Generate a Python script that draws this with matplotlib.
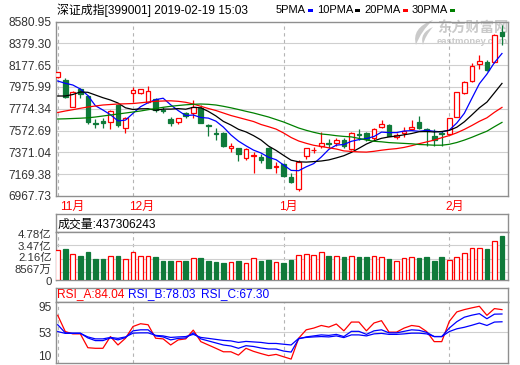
import matplotlib
matplotlib.use("Agg")
import matplotlib.pyplot as plt
from matplotlib.patches import Rectangle, PathPatch
from matplotlib.path import Path
from matplotlib.transforms import blended_transform_factory, ScaledTranslation
import numpy as np

plt.rcParams['font.family'] = ['Liberation Sans', 'Noto Sans CJK SC', 'DejaVu Sans']

# ---------------- data ----------------
title = "深证成指[399001] 2019-02-19 15:03"
ma_names = ["5PMA", "10PMA", "20PMA", "30PMA"]
month_labels = ["11月", "12月", "1月", "2月"]
month_index = [0, 10, 30, 52]

opens = [8065, 8037, 7793, 7954, 7895, 7643, 7664, 7649, 7809, 7594,
         7917, 7923, 7840, 7862, 7767, 7675, 7655, 7732, 7732, 7777,
         7620, 7550, 7550, 7414, 7409, 7316, 7337, 7331, 7414, 7236,
         7264, 7143, 7037, 7342, 7390, 7430, 7455, 7455, 7485, 7402,
         7541, 7547, 7501, 7603, 7624, 7510, 7547, 7587, 7655, 7583,
         7522, 7550, 7541, 7701, 7923, 8031, 8188, 8207, 8202, 8487]
highs = [8114, 8056, 7938, 7963, 7901, 7682, 7692, 7763, 7818, 7698,
         7978, 7957, 7985, 7877, 7793, 7695, 7689, 7744, 7855, 7809,
         7631, 7596, 7559, 7455, 7416, 7411, 7377, 7353, 7424, 7282,
         7276, 7183, 7300, 7411, 7418, 7555, 7499, 7501, 7501, 7557,
         7583, 7562, 7594, 7670, 7629, 7550, 7606, 7670, 7707, 7592,
         7587, 7569, 7689, 7929, 8034, 8195, 8271, 8225, 8461, 8549]
lows = [8058, 7871, 7790, 7871, 7633, 7599, 7599, 7584, 7606, 7550,
        7840, 7908, 7830, 7747, 7732, 7618, 7633, 7686, 7686, 7638,
        7525, 7481, 7418, 7372, 7291, 7300, 7183, 7270, 7224, 7180,
        7141, 7085, 7017, 7310, 7362, 7416, 7411, 7433, 7409, 7393,
        7490, 7479, 7485, 7592, 7518, 7495, 7513, 7578, 7587, 7433,
        7433, 7433, 7532, 7698, 7911, 8019, 8139, 8123, 8197, 8364]
closes = [8111, 7886, 7932, 7908, 7649, 7636, 7645, 7756, 7624, 7686,
          7948, 7954, 7938, 7763, 7758, 7640, 7686, 7707, 7793, 7640,
          7615, 7544, 7433, 7430, 7353, 7399, 7347, 7298, 7229, 7245,
          7153, 7097, 7285, 7407, 7396, 7455, 7448, 7485, 7433, 7547,
          7532, 7495, 7584, 7633, 7525, 7532, 7569, 7603, 7599, 7573,
          7485, 7541, 7686, 7926, 8024, 8172, 8219, 8133, 8456, 8447]

ma5 = [8030.9, 8009.6, 7993.9, 7956.9, 7896.8, 7802.5, 7762.7, 7719.3, 7662.0, 7669.4,
       7732.2, 7793.3, 7830.2, 7858.0, 7871.8, 7810.8, 7757.2, 7711.0, 7716.5, 7693.4,
       7687.9, 7660.1, 7604.7, 7532.6, 7475.2, 7431.8, 7392.0, 7365.2, 7325.5, 7303.3,
       7254.3, 7204.4, 7201.6, 7237.6, 7267.2, 7328.2, 7398.5, 7438.2, 7443.8, 7473.4,
       7489.1, 7498.3, 7517.8, 7558.4, 7553.8, 7553.8, 7568.6, 7572.3, 7565.8, 7575.1,
       7565.8, 7560.3, 7576.9, 7642.6, 7732.2, 7870.0, 8005.9, 8094.6, 8201.0, 8285.1]
ma10 = [7892.2, 7892.2, 7906.0, 7929.2, 7926.4, 7901.4, 7876.5, 7855.2, 7827.5, 7783.1,
        7767.4, 7773.8, 7774.8, 7760.0, 7771.1, 7771.1, 7775.7, 7770.1, 7787.7, 7783.1,
        7749.8, 7708.2, 7657.4, 7624.1, 7584.3, 7560.3, 7526.1, 7485.4, 7429.0, 7389.3,
        7343.0, 7298.7, 7283.9, 7281.1, 7285.7, 7291.3, 7301.4, 7319.9, 7340.3, 7370.8,
        7408.7, 7448.4, 7478.0, 7501.1, 7514.1, 7521.5, 7533.5, 7545.5, 7562.1, 7564.0,
        7559.4, 7564.0, 7574.2, 7603.7, 7653.7, 7717.4, 7783.1, 7835.8, 7921.8, 8008.7]
ma20 = [7739.6, 7753.5, 7765.5, 7778.5, 7790.5, 7799.7, 7809.0, 7813.6, 7818.2, 7820.1,
        7822.8, 7829.3, 7836.7, 7843.2, 7846.0, 7847.8, 7843.2, 7833.9, 7818.2, 7797.0,
        7776.6, 7758.1, 7735.0, 7711.9, 7693.4, 7674.9, 7656.4, 7628.7, 7608.4, 7586.2,
        7550.1, 7508.5, 7476.2, 7454.9, 7436.4, 7425.3, 7413.3, 7402.2, 7384.6, 7380.0,
        7375.4, 7373.5, 7380.9, 7391.1, 7399.4, 7405.9, 7417.0, 7432.7, 7451.2, 7467.8,
        7484.5, 7506.7, 7526.1, 7552.0, 7583.4, 7619.5, 7658.3, 7690.6, 7741.5, 7786.8]
ma30 = [7679.5, 7681.4, 7684.2, 7686.9, 7690.6, 7698.0, 7707.3, 7716.5, 7725.8, 7735.0,
        7744.3, 7753.5, 7765.5, 7776.6, 7787.7, 7797.0, 7804.4, 7810.8, 7815.4, 7818.2,
        7815.4, 7809.0, 7797.0, 7783.1, 7767.4, 7750.7, 7735.0, 7716.5, 7698.0, 7674.9,
        7651.8, 7624.1, 7596.3, 7575.1, 7556.6, 7540.9, 7534.4, 7525.2, 7518.7, 7514.1,
        7500.2, 7485.4, 7473.4, 7468.8, 7461.4, 7457.7, 7454.0, 7450.3, 7443.8, 7441.0,
        7437.3, 7437.3, 7445.7, 7462.3, 7484.5, 7510.4, 7539.0, 7566.8, 7608.4, 7648.1]

# volume in units of 1e8 (亿)
volume = [3.02, 3.09, 2.59, 2.42, 2.82, 2.12, 2.12, 2.42, 2.42, 2.12,
          2.79, 2.42, 2.42, 2.32, 1.92, 1.92, 1.92, 1.92, 2.22, 2.25,
          1.92, 1.82, 1.72, 1.82, 1.92, 1.72, 2.22, 1.92, 2.02, 1.79,
          1.72, 2.02, 2.49, 2.59, 2.49, 2.79, 2.42, 2.42, 2.32, 2.42,
          2.32, 2.32, 2.42, 2.32, 2.12, 1.92, 2.22, 2.32, 2.22, 2.32,
          1.92, 2.32, 2.02, 2.32, 2.69, 3.22, 3.22, 3.12, 3.91, 4.373]
volume_header = "成交量:437306243"

rsi_a = [76.2, 53.8, 50.6, 50.6, 31.5, 30.7, 30.7, 46.9, 35.3, 44.6,
         60.8, 64.6, 63.2, 44.6, 43.7, 35.3, 42.3, 43.7, 55.8, 39.9,
         35.3, 30.7, 25.9, 25.9, 21.3, 30.7, 26.5, 23.4, 20.6, 22.3,
         19.0, 15.8, 44.6, 56.2, 58.6, 62.2, 60.0, 64.2, 54.8, 66.9,
         66.9, 54.8, 65.6, 68.8, 53.0, 53.0, 58.6, 62.2, 60.8, 53.8,
         39.9, 39.9, 67.8, 80.9, 84.1, 86.5, 88.7, 76.2, 85.5, 84.04]
rsi_b = [63.2, 52.0, 51.6, 51.6, 45.0, 41.3, 41.3, 45.0, 42.3, 45.5,
         54.8, 56.2, 56.2, 47.8, 46.4, 42.3, 44.4, 45.0, 52.0, 43.7,
         40.9, 38.1, 35.3, 33.9, 30.7, 34.3, 33.2, 31.1, 29.7, 29.7,
         26.9, 25.5, 43.7, 46.4, 47.8, 49.2, 48.5, 49.9, 46.9, 54.1,
         54.1, 49.9, 54.8, 56.2, 52.0, 52.0, 54.1, 56.2, 55.5, 52.7,
         46.9, 46.9, 58.6, 67.4, 73.6, 76.4, 78.5, 71.5, 77.8, 78.03]
rsi_c = [53.8, 51.3, 51.3, 51.3, 46.4, 43.7, 43.7, 45.7, 44.4, 46.4,
         51.6, 52.0, 52.0, 48.5, 47.8, 45.7, 46.4, 46.9, 49.9, 45.7,
         44.4, 43.0, 41.6, 40.9, 38.8, 40.2, 39.5, 38.8, 37.4, 37.4,
         36.3, 35.3, 44.4, 45.7, 46.4, 46.9, 46.4, 47.8, 45.5, 49.2,
         49.2, 47.8, 50.6, 51.3, 49.9, 49.9, 50.6, 51.6, 51.6, 50.6,
         46.9, 46.9, 53.8, 57.6, 59.7, 62.5, 65.6, 62.2, 66.9, 67.30]
rsi_names = ["RSI_A", "RSI_B", "RSI_C"]

price_ticks = [6967.73, 7169.38, 7371.04, 7572.69, 7774.34, 7975.99, 8177.65, 8379.30, 8580.95]
vol_ticks = [0, 0.8567, 2.16, 3.47, 4.78]
vol_tick_labels = ["0", "8567万", "2.16亿", "3.47亿", "4.78亿"]
rsi_ticks = [10, 53, 95]

# ---------------- style ----------------
RED = "#ff0000"
GREEN = "#0f7a3a"
MA_COLORS = ["#0000ff", "#000000", "#ff0000", "#008000"]
RSI_COLORS = ["#ff0000", "#0000ff", "#0000ff"]
FRAME = "#8f8f8f"
GRID = "#cfcfcf"
DASH = "#b4b4b4"
LABEL = "#333333"
WM = "#cacaca"
FS = 8.6

W, H = 520, 365
fig = plt.figure(figsize=(W / 100, H / 100), dpi=100)
fig.patch.set_facecolor("white")


def rect(x0, y0, x1, y1):
    return [x0 / W, 1 - y1 / H, (x1 - x0) / W, (y1 - y0) / H]


def fp(px, py):
    return (px / W, 1 - py / H)


X0, X1 = 56, 508.3
ax = fig.add_axes(rect(X0, 21.5, X1, 196))
axvh = fig.add_axes(rect(X0, 214.3, X1, 232.3))
axv = fig.add_axes(rect(X0, 232.3, X1, 280.3))
axrh = fig.add_axes(rect(X0, 287.7, X1, 301.7))
axr = fig.add_axes(rect(X0, 301.7, X1, 363.3))

n = len(closes)
x = np.arange(n)
XL = (-0.23, n - 0.16)

for a in (ax, axvh, axv, axrh, axr):
    a.set_xlim(*XL)
    for s in a.spines.values():
        s.set_color(FRAME)
        s.set_linewidth(1.0)
    a.tick_params(length=0, pad=3.2, labelsize=FS, colors=LABEL)
    a.set_xticks([])
for a in (axvh, axrh):
    a.set_yticks([])

# ---- watermark (behind candles) ----
ax.text(*fp(437, 29), "东方财富网", transform=fig.transFigure, color=WM,
        fontsize=10.3, fontweight="bold", ha="left", va="center", zorder=0.5)
ax.text(*fp(437, 41.5), "eastmoney.com", transform=fig.transFigure, color=WM,
        fontsize=6.8, fontweight="bold", ha="left", va="center", zorder=0.5)
for pts in ([(433, 20), (411, 28), (416, 45), (421, 31), (433, 20)],
            [(433, 27), (419, 33), (423, 45), (425, 36), (433, 27)]):
    verts = [fp(*p) for p in pts]
    path = Path(verts, [Path.MOVETO, Path.CURVE3, Path.CURVE3, Path.CURVE3, Path.CURVE3])
    ax.add_patch(PathPatch(path, transform=fig.transFigure, facecolor=WM,
                           edgecolor="none", zorder=0.5, clip_on=False))

# ---- main panel ----
ax.set_ylim(price_ticks[0], price_ticks[-1])
ax.set_yticks(price_ticks)
ax.set_yticklabels([f"{v:.2f}" for v in price_ticks])
for v in price_ticks[1:-1]:
    ax.axhline(v, color=GRID, lw=0.8, zorder=1)
for a in (ax, axv, axr):
    for m in month_index:
        a.axvline(m, color=DASH, lw=0.8, ls=(0, (3, 3)), zorder=1)

bw = 0.62
for i in range(n):
    o, h, l, c = opens[i], highs[i], lows[i], closes[i]
    up = c >= o
    col = RED if up else GREEN
    lo_b, hi_b = min(o, c), max(o, c)
    ax.vlines(i, hi_b, h, color=col, lw=0.9, zorder=3)
    ax.vlines(i, l, lo_b, color=col, lw=0.9, zorder=3)
    ax.add_patch(Rectangle((i - bw / 2, lo_b), bw, hi_b - lo_b,
                           facecolor="white" if up else col, edgecolor=col,
                           lw=0.9, zorder=3))

for vals, colr in zip([ma5, ma10, ma20, ma30], MA_COLORS):
    ax.plot(x, vals, color=colr, lw=0.9, zorder=4)

# month labels under main panel
tr = blended_transform_factory(ax.transData, ax.transAxes)
for lab, m in zip(month_labels, month_index):
    ax.text(max(m - 0.55, 0.3), -0.063, lab, transform=tr, color=RED,
            fontsize=FS, ha="left", va="center", clip_on=False)

# title and MA legend
fig.text(*fp(56.7, 10), title, fontsize=FS, color="#000000", ha="left", va="center")
fig.canvas.draw()
renderer = fig.canvas.get_renderer()
cur = 276
for name, colr in zip(ma_names, MA_COLORS):
    t = fig.text(*fp(cur, 10), name, fontsize=8, color="#000000", ha="left", va="center")
    bb = t.get_window_extent(renderer)
    xe = bb.x1 + 2
    fig.patches.append(Rectangle(fp(xe, 11.8), 5 / W, 3 / H, transform=fig.transFigure,
                                 facecolor=colr, edgecolor="none", figure=fig))
    cur = xe + 5 + 4

# ---- volume panel ----
axvh.text(0.004, 0.45, volume_header, transform=axvh.transAxes, fontsize=FS,
          color="#000000", ha="left", va="center")
axv.set_ylim(0, 4.78)
axv.set_yticks(vol_ticks)
axv.set_yticklabels(vol_tick_labels)
axv.tick_params(labelsize=8.2)
# evenly spaced label placement like the reference (pixel nudges)
nudges = [-1.0, 2.5, 1.2, 0.0, -2.0]
for lab, d in zip(axv.get_yticklabels(), nudges):
    lab.set_transform(lab.get_transform() + ScaledTranslation(0, d / 100, fig.dpi_scale_trans))
for v in vol_ticks[1:-1]:
    axv.axhline(v, color=GRID, lw=0.8, zorder=1)
for i in range(n):
    up = closes[i] >= opens[i]
    col = RED if up else GREEN
    axv.bar(i, volume[i], width=bw, facecolor="white" if up else col, edgecolor=col,
            lw=0.9, zorder=3)

# ---- RSI panel ----
axr.set_ylim(10, 95)
axr.set_yticks(rsi_ticks)
axr.set_yticklabels([str(v) for v in rsi_ticks])
labs = axr.get_yticklabels()
labs[0].set_verticalalignment("bottom")
labs[-1].set_verticalalignment("top")
axr.axhline(53, color=GRID, lw=0.8, zorder=1)
for vals, colr in zip([rsi_a, rsi_b, rsi_c], RSI_COLORS):
    axr.plot(x, vals, color=colr, lw=0.9, zorder=3)

rsi_x = [57.3, 128.3, 201]
for name, vals, colr, px in zip(rsi_names, [rsi_a, rsi_b, rsi_c], RSI_COLORS, rsi_x):
    fig.text(*fp(px, 294.5), f"{name}:{vals[-1]:.2f}", fontsize=FS, color=colr,
             ha="left", va="center")

fig.savefig("out.png", dpi=100, facecolor="white")
